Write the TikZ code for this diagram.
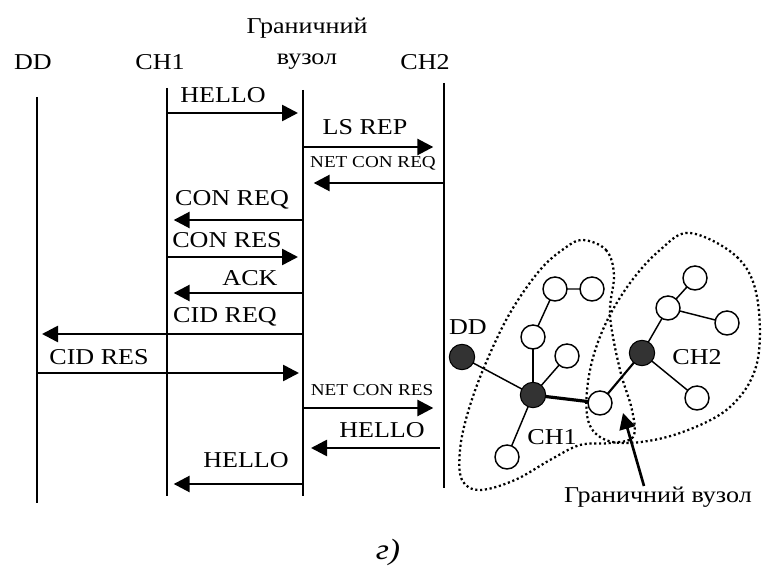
\documentclass[tikz,border=0pt]{standalone}
\usepackage{fontspec}
\setmainfont[FakeStretch=1.15]{Liberation Serif}
\usetikzlibrary{arrows.meta}
\begin{document}
\begin{tikzpicture}[x=0.75pt,y=-0.75pt,
 life/.style={line width=2pt},
 msg/.style={line width=2pt,-{Triangle[length=12pt,width=12pt]}},
 lbl/.style={font=\fontsize{17}{20}\selectfont, inner sep=0pt},
 slbl/.style={font=\fontsize{12.5}{15}\selectfont, inner sep=0pt},
 hub/.style={circle, fill=black!80, draw=black, line width=0.8pt, minimum size=19pt, inner sep=0pt},
 leaf/.style={circle, fill=white, draw=black, line width=1.1pt, minimum size=18pt, inner sep=0pt},
 edge/.style={line width=1.1pt},
 zone/.style={dash pattern=on 1.6pt off 2pt, line width=1.7pt}
]
\useasboundingbox (0,0) rectangle (765,573);

% headers
\node[lbl] (hDD) at (33,62) {DD};
\node[lbl] (hCH1) at (160,62) {CH1};
\node[lbl] (hB1) at (307,28) {Граничний};
\node[lbl] (hB2) at (307,62) {вузол};
\node[lbl] (hCH2) at (425,62) {CH2};

% lifelines
\coordinate (ddT) at (37,97);  \coordinate (ddB) at (37,503);
\coordinate (c1T) at (167,88); \coordinate (c1B) at (167,496);
\coordinate (bT) at (303,90);  \coordinate (bB) at (303,496);
\coordinate (c2T) at (444,83); \coordinate (c2B) at (444,488);
\draw[life] (ddT) -- (ddB);
\draw[life] (c1T) -- (c1B);
\draw[life] (bT) -- (bB);
\draw[life] (c2T) -- (c2B);

% messages
\draw[msg, shorten >=3.75pt] (c1T |- 0,113) -- (bT |- 0,113);
\node[lbl] (l1) at (223,95) {HELLO};
\draw[msg, shorten >=8pt] (bT |- 0,147) -- (c2T |- 0,147);
\node[lbl] (l2) at (365,127) {LS REP};
\draw[msg, shorten >=8pt] (c2T |- 0,183) -- (bT |- 0,183);
\node[slbl] (l3) at (373,163) {NET CON REQ};
\draw[msg, shorten >=5pt] (bT |- 0,220) -- (c1T |- 0,220);
\node[lbl] (l4) at (232,200) {CON REQ};
\draw[msg, shorten >=3.75pt] (c1T |- 0,257) -- (bT |- 0,257);
\node[lbl] (l5) at (227,240) {CON RES};
\draw[msg, shorten >=5pt] (bT |- 0,293) -- (c1T |- 0,293);
\node[lbl] (l6) at (250,278) {ACK};
\draw[msg, shorten >=3.75pt] (bT |- 0,334) -- (ddT |- 0,334);
\node[lbl] (l7) at (225,317) {CID REQ};
\draw[msg, shorten >=3pt] (ddT |- 0,373) -- (bT |- 0,373);
\node[lbl] (l8) at (99,357) {CID RES};
\draw[msg, shorten >=8pt] (bT |- 0,408) -- (c2T |- 0,408);
\node[slbl] (l9) at (372,390) {NET CON RES};
\draw[msg, shorten <=3pt, shorten >=6pt] (c2T |- 0,448) -- (bT |- 0,448);
\node[lbl] (l10) at (382,430) {HELLO};
\draw[msg, shorten >=5pt] (bT |- 0,484) -- (c1T |- 0,484);
\node[lbl] (l11) at (246,460) {HELLO};

% zones
\draw[zone] plot[smooth cycle, tension=0.6] coordinates {(583,240) (606,250) (614,275) (610,315) (620,370) (632,410) (633,437) (610,443) (580,445) (550,460) (515,480) (480,490) (462,480) (460,450) (468,412) (485,365) (510,313) (540,270) (565,248)};
\draw[zone] plot[smooth cycle, tension=0.6] coordinates {(690,233) (737,257) (757,297) (757,363) (730,407) (680,433) (630,443) (600,437) (587,415) (590,370) (605,325) (630,283) (660,250)};

% graph
\coordinate (gDDc) at (462,357);
\coordinate (gCH1c) at (533,395);
\coordinate (gCH2c) at (642,353);
\draw[edge] (gDDc) -- (gCH1c);
\draw[edge] (gCH1c) -- (533,337) coordinate (a1c);
\draw[edge] (a1c) -- (555,289) coordinate (a2c) -- (592,289) coordinate (a3c);
\draw[edge] (gCH1c) -- (567,356) coordinate (a4c);
\draw[edge] (gCH1c) -- (507,457) coordinate (a5c);
\draw[line width=2.4pt] (gCH1c) -- (600,403) coordinate (bc);
\draw[line width=1.6pt] (bc) -- (gCH2c);
\draw[edge] (gCH2c) -- (668,308) coordinate (b1c);
\draw[edge] (b1c) -- (695,278) coordinate (b2c);
\draw[edge] (b1c) -- (727,323) coordinate (b3c);
\draw[edge] (gCH2c) -- (697,398) coordinate (b4c);
\node[hub] (gDD) at (gDDc) {};
\node[hub] (gCH1) at (gCH1c) {};
\node[hub] (gCH2) at (gCH2c) {};
\node[leaf] (gB) at (bc) {};
\foreach \n in {a1c,a2c,a3c,a4c,a5c,b1c,b2c,b3c,b4c} \node[leaf] at (\n) {};
\node[lbl] (tDD) at (468,327) {DD};
\node[lbl] (tCH1) at (552,437) {CH1};
\node[lbl] (tCH2) at (697,357) {CH2};
\node[lbl] (tB) at (658,497) {Граничний вузол};
\coordinate (tail) at (644,486);
\coordinate (tip) at (623,413);
\draw[msg] (tail) -- (tip);

% caption
\node[font=\fontsize{22}{26}\selectfont\itshape] (cap) at (388,552) {г)};
\end{tikzpicture}
\end{document}
